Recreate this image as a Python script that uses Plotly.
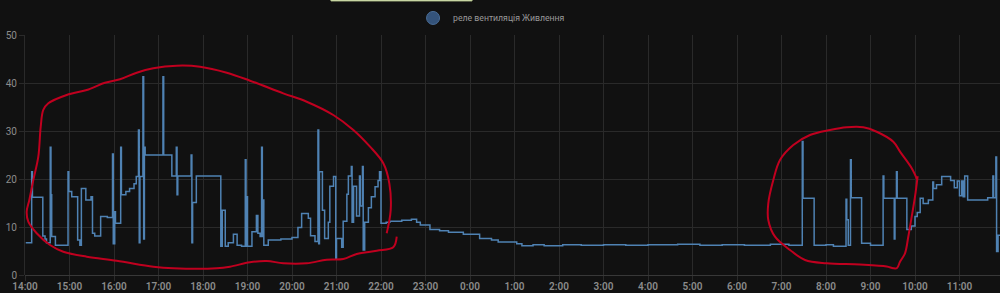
import datetime as dt
import plotly.graph_objects as go

# ---- series data (time of day, value); times before 14:00 belong to the next day
times = ["14:01","14:09","14:10","14:24","14:27","14:29","14:34","14:35","14:36","14:41",
         "14:58","14:59","15:03","15:11","15:14","15:16","15:22","15:29","15:31","15:34",
         "15:42","15:51","15:58","15:59","16:01","16:02","16:09","16:10","16:16","16:21",
         "16:27","16:30","16:33","16:34","16:35","16:39","16:40","16:41","16:42","17:06",
         "17:07","17:18","17:24","17:25","17:26","17:44","17:45","17:46","17:51","18:24",
         "18:26","18:30","18:34","18:41","18:46","18:52","18:57","18:58","18:59","19:00",
         "19:06","19:12","19:14","19:17","19:19","19:20","19:21","19:22","19:28","19:45",
         "20:00","20:08","20:13","20:22","20:25","20:31","20:35","20:36","20:37","20:41",
         "20:44","20:49","20:51","20:56","20:59","21:00","21:07","21:09","21:14","21:16",
         "21:20","21:21","21:23","21:27","21:31","21:32","21:35","21:36","21:38","21:43",
         "21:47","21:52","21:56","21:58","22:00","22:07","22:12","22:28","22:41","22:48",
         "22:53","23:06","23:19","23:31","23:51","00:13","00:29","00:38","01:03","01:10",
         "01:25","01:40","02:05","02:30","03:00","03:30","04:00","04:40","05:10","05:40",
         "06:10","06:45","07:10","07:28","07:29","07:44","08:00","08:10","08:27","08:28",
         "08:30","08:33","08:34","08:48","09:00","09:17","09:18","09:32","09:33","09:35",
         "09:36","09:49","09:55","10:00","10:03","10:07","10:11","10:18","10:24","10:25",
         "10:29","10:36","10:48","10:53","10:57","11:00","11:03","11:05","11:07","11:11",
         "11:38","11:45","11:46","11:49","11:50","11:52","11:55"]
values = [6.7,21.5,16.2,8.1,7.5,6.7,26.6,16.7,8.0,6.2,
          21.5,17.4,16.3,7.3,6.2,18.0,15.6,16.3,8.7,8.1,
          12.2,12.0,25.2,6.5,13.2,10.8,26.6,16.7,17.4,18.0,
          19.0,20.5,30.2,6.7,20.5,41.3,7.5,26.6,25.0,41.3,
          25.0,20.6,26.6,16.7,20.6,25.0,6.7,15.1,20.6,6.0,
          13.5,6.0,6.7,8.5,6.2,6.0,24.0,6.0,16.3,6.0,
          9.0,12.4,8.7,8.0,26.6,8.0,15.6,6.2,7.3,7.5,
          7.8,9.9,12.8,11.8,8.2,7.0,30.2,6.5,21.5,13.5,
          7.6,11.0,18.5,20.5,3.5,7.6,5.8,11.2,16.8,20.6,
          22.6,11.0,18.5,12.3,20.6,14.4,22.6,5.2,11.0,14.0,
          16.3,18.4,19.7,21.5,10.8,11.0,11.2,11.4,11.6,11.0,
          10.4,9.5,9.2,8.9,8.5,7.6,7.3,6.9,6.5,6.1,
          6.3,6.1,6.3,6.2,6.3,6.2,6.3,6.4,6.2,6.3,
          6.2,6.4,6.2,27.8,16.0,6.2,6.3,6.0,15.8,11.5,
          6.2,24.0,16.1,6.6,6.2,20.6,16.0,7.5,16.0,21.5,
          16.0,9.5,10.2,12.2,13.0,16.0,14.9,15.6,19.4,18.0,
          18.8,20.5,19.7,18.2,19.6,16.5,19.6,16.3,20.6,15.6,
          16.1,20.6,16.1,24.6,4.9,8.3,8.3]

series_name = "реле вентиляція Живлення"
y_ticks = [0, 10, 20, 30, 40, 50]

# ---- hand-drawn red marks: hours after 14:00 and value
loop1_h = [8.128,8.218,8.187,8.052,7.753,7.378,6.928,6.330,5.804,5.056,4.533,3.933,3.409,2.883,
           2.510,2.135,1.798,1.387,0.937,0.524,0.411,0.353,0.299,0.187,0.097,0.038,0.074,0.263,
           0.562,0.861,1.387,2.061,2.883,3.333,4.308,4.607,5.056,5.431,5.804,6.330,6.780,7.153,
           7.454,7.903,8.276,8.353]
loop1_v = [8.69,13.54,19.1,23.27,26.73,30.21,33.33,36.1,37.85,40.48,42.15,43.4,43.6,43.06,
           42.15,40.77,40.06,38.54,37.5,35.77,34.38,30.9,24.65,19.79,15.63,13.19,11.1,8.69,
           6.25,4.85,3.81,2.98,1.73,1.4,1.4,1.73,2.65,2.92,2.44,2.44,3.19,3.33,
           4.38,5.06,5.77,7.98]
loop2_h = [20.052,19.926,19.663,19.512,19.139,18.838,18.465,18.09,17.64,17.265,16.966,16.816,
           16.703,16.703,16.854,17.191,17.528,18.016,18.764,19.364,19.512,19.596,19.663,19.775,
           19.849,19.926,20.0,20.06]
loop2_v = [19.79,22.23,25.69,27.77,29.85,30.77,30.77,30.21,29.17,27.08,23.96,19.79,
           14.94,11.46,7.98,5.21,3.13,2.44,2.19,1.77,1.4,1.46,2.77,4.52,
           7.98,12.15,16.31,20.6]

base = dt.datetime(2024, 3, 10, 14, 0)


def to_dt(s):
    h, m = map(int, s.split(":"))
    d = base.replace(hour=h, minute=m)
    if h < 14:
        d += dt.timedelta(days=1)
    return d


x = [to_dt(t) for t in times]
l1x = [base + dt.timedelta(hours=h) for h in loop1_h]
l2x = [base + dt.timedelta(hours=h) for h in loop2_h]

BG = "#111111"
GRID = "#2a2a2a"

fig = go.Figure()
fig.add_trace(go.Scatter(x=x, y=values, mode="lines", line=dict(color="#4f82b3", width=1.5, shape="hv"),
                         showlegend=False, hoverinfo="skip"))
fig.add_trace(go.Scatter(x=[None], y=[None], mode="markers", name=series_name,
                         marker=dict(symbol="circle", size=13, color="#34537a",
                                     line=dict(color="#4a6d96", width=1))))
for lx, lv in ((l1x, loop1_v), (l2x, loop2_v)):
    fig.add_trace(go.Scatter(x=lx, y=lv, mode="lines", line=dict(color="#c0001f", width=2, shape="spline"),
                             showlegend=False, hoverinfo="skip"))

fig.update_layout(
    width=1000, height=293,
    margin=dict(l=25, r=0, t=35, b=18),
    paper_bgcolor=BG, plot_bgcolor=BG,
    font=dict(family="Roboto", color="#8c8c8c", size=10),
    legend=dict(orientation="h", x=0.398, y=1.071, xanchor="left", yanchor="middle",
                font=dict(size=8.7, color="#9a9a9a"), bgcolor="rgba(0,0,0,0)",
                itemsizing="trace"),
    shapes=[dict(type="rect", xref="paper", yref="paper", x0=0.3138, x1=0.4585, y0=1.142, y1=1.3,
                 fillcolor="#dfe8c2", line=dict(color="#b9c98e", width=1))],
)
fig.update_xaxes(
    range=[base, base + dt.timedelta(hours=21.91)],
    dtick=3600000, tick0=base, tickformat="%-H:%M",
    showgrid=True, gridcolor=GRID, gridwidth=1,
    ticks="outside", ticklen=5, tickcolor=GRID, ticklabelstandoff=-3,
    tickfont=dict(size=10, color="#8c8c8c", weight=600),
    showline=False, zeroline=False, automargin=False,
)
fig.update_yaxes(
    range=[0, 50], tickvals=y_ticks,
    showgrid=True, gridcolor=GRID, gridwidth=1,
    ticks="outside", ticklen=5, tickcolor=GRID,
    tickfont=dict(size=10, color="#8c8c8c"),
    zeroline=True, zerolinecolor="#383838", zerolinewidth=1,
    showline=True, linecolor=GRID, linewidth=1, automargin=False,
)

fig.write_html("out.html")
